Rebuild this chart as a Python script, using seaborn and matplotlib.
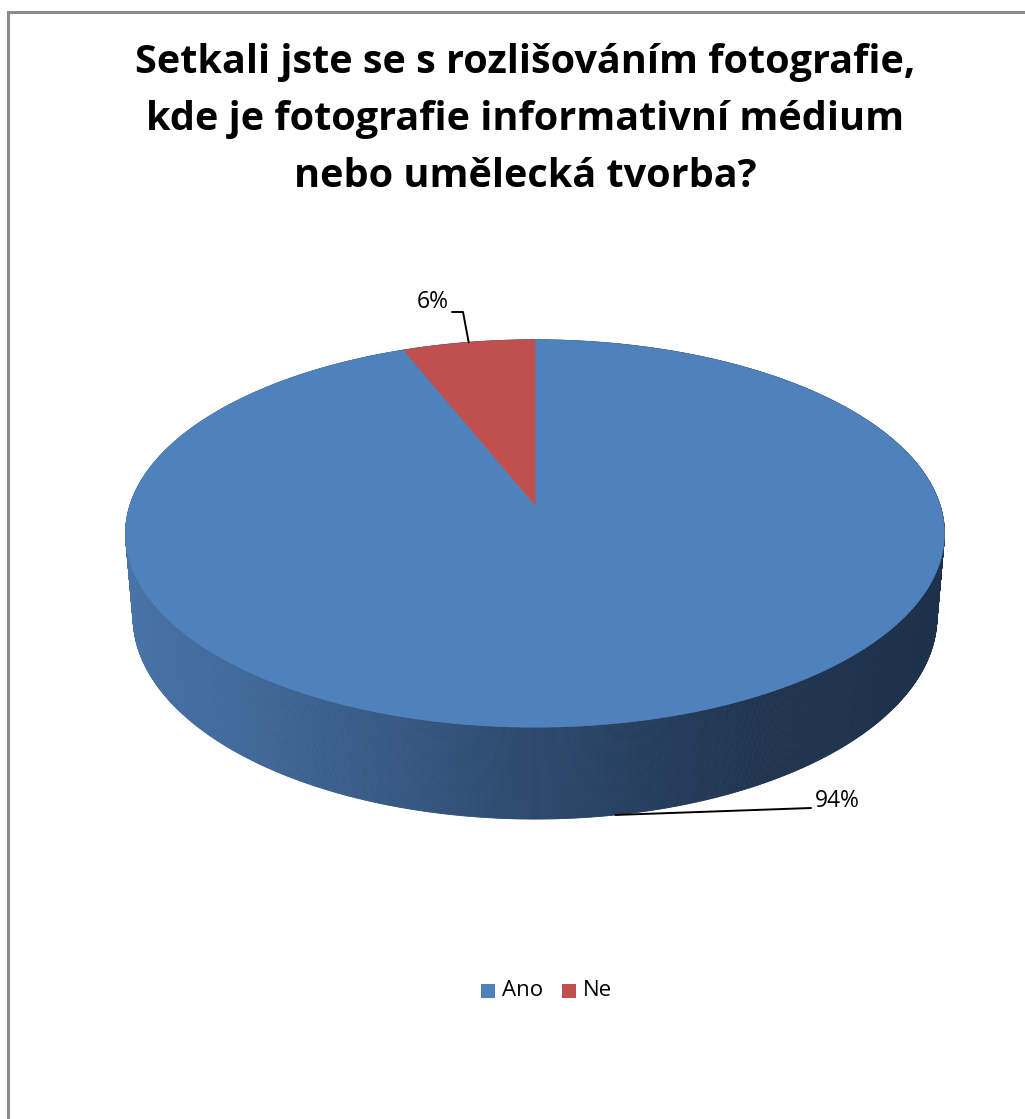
import numpy as np
import matplotlib
matplotlib.use("Agg")
import matplotlib.pyplot as plt
from matplotlib.patches import Polygon, Rectangle
from matplotlib.collections import PolyCollection
import seaborn as sns

sns.set_theme(style="white")
plt.rcParams["font.family"] = ["Open Sans", "DejaVu Sans"]

# Survey answers
categories = ["Ano", "Ne"]
shares = [94, 6]
colors = ["#4F81BD", "#C0504D"]
title_lines = [
    "Setkali jste se s rozlišováním fotografie,",
    "kde je fotografie informativní médium",
    "nebo umělecká tvorba?",
]

W, H = 1025, 1119
fig = plt.figure(figsize=(W / 100, H / 100), dpi=100)
ax = fig.add_axes([0, 0, 1, 1])
ax.set_xlim(0, W)
ax.set_ylim(H, 0)
ax.axis("off")

# Perspective view of a disc of radius 1 and thickness THICK
ELEV = np.radians(27.9)
DIST = 6.01
FOCAL = 2434.0
THICK = 0.235
CX, CY = 535.0, 505.0


def project(theta, z=0.0):
    x = np.cos(theta)
    y = np.sin(theta)
    up = y * np.sin(ELEV) + z * np.cos(ELEV)
    depth = y * np.cos(ELEV) - z * np.sin(ELEV)
    k = FOCAL / (DIST + depth)
    return CX + x * k, CY - up * k


# Slice angles: first slice starts at 12 o'clock, running clockwise
fractions = np.array(shares, dtype=float) / np.sum(shares)
starts = np.pi / 2 - 2 * np.pi * np.concatenate([[0], np.cumsum(fractions)[:-1]])
ends = starts - 2 * np.pi * fractions

# Side wall: shaded strips along the whole rim (back ones end up hidden)
n = 1440
t = np.linspace(0, 2 * np.pi, n + 1)
tx, ty = project(t, 0.0)
bx, by = project(t, -THICK)
stops_x = [128, 300, 535, 760, 942]
stops_rgb = np.array([[72, 116, 168], [61, 99, 146], [44, 73, 108],
                      [32, 52, 80], [30, 49, 74]]) / 255.0
quads, qcols = [], []
order = np.argsort(-np.sin(t[:-1]))  # back to front
for i in order:
    quad = [(tx[i], ty[i]), (tx[i + 1], ty[i + 1]),
            (bx[i + 1], by[i + 1]), (bx[i], by[i])]
    mx = 0.25 * (tx[i] + tx[i + 1] + bx[i] + bx[i + 1])
    rgb = [np.interp(mx, stops_x, stops_rgb[:, c]) for c in range(3)]
    quads.append(quad)
    qcols.append(rgb)
ax.add_collection(PolyCollection(quads, facecolors=qcols, edgecolors=qcols,
                                 linewidths=0.6, zorder=1))

# Top faces of the slices
for s, e, col in zip(starts, ends, colors):
    tt = np.linspace(s, e, max(int(abs(s - e) * 200), 20))
    px, py = project(tt, 0.0)
    pts = np.column_stack([np.r_[CX, px], np.r_[CY, py]])
    ax.add_patch(Polygon(pts, closed=True, facecolor=col, edgecolor=col,
                         linewidth=0.5, zorder=2))

# Data labels with leader lines
lab_font = dict(fontsize=16.5, color="black", zorder=5)
ne_mid = 0.5 * (starts[1] + ends[1])
ex, ey = project(ne_mid, 0.0)
ax.plot([452, 463, ex], [312, 312, ey], color="black", lw=1.4, zorder=4)
ax.text(449, 302, f"{shares[1]}%", ha="right", va="center", **lab_font)

ano_anchor = np.radians(-80)
ax_, ay_ = project(ano_anchor, -THICK)
ax.plot([ax_, 811], [ay_, 808], color="black", lw=1.4, zorder=4)
ax.text(815, 801, f"{shares[0]}%", ha="left", va="center", **lab_font)

# Title
for line, yb in zip(title_lines, [73, 130, 187]):
    ax.text(525, yb, line, ha="center", va="baseline", fontsize=28.5,
            fontweight="bold", color="black")

# Legend
leg_x = [481, 562]
for xs, cat, col in zip(leg_x, categories, colors):
    ax.add_patch(Rectangle((xs, 984), 14, 14, facecolor=col, edgecolor="none"))
    ax.text(xs + 21, 991, cat, ha="left", va="center", fontsize=16,
            color="black")

# Chart area frame
ax.plot([8, 8, W + 5], [H + 5, 12, 12], color="#8c8c8c", lw=2.2,
        solid_joinstyle="miter", zorder=6)

fig.savefig("out.png", dpi=100, facecolor="white")
